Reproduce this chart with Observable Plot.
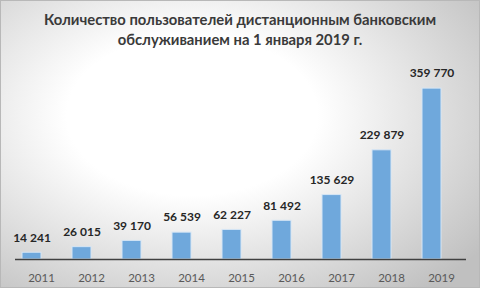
<!DOCTYPE html>
<html>
<head>
<meta charset="utf-8">
<script src="https://cdn.jsdelivr.net/npm/d3@7"></script>
<script src="https://cdn.jsdelivr.net/npm/@observablehq/plot@0.6"></script>
<style>
  html, body { margin: 0; padding: 0; }
  #chart {
    position: relative;
    width: 480px; height: 288px; box-sizing: border-box;
    border: 1px solid #b8b8b8;
    background: radial-gradient(ellipse 75% 80% at 40% 40%, #ffffff 35%, #c0c0c0 100%);
    font-family: Lato, "Open Sans", sans-serif;
    overflow: hidden;
  }
  #title {
    height: 47px; box-sizing: border-box; padding-top: 8px;
    text-align: center; font-weight: bold; font-size: 14.8px; line-height: 20px;
    color: #3a3a3a; white-space: nowrap;
  }
  #chart svg { display: block; background: transparent; }
</style>
</head>
<body>
<div id="chart">
  <div id="title">Количество пользователей дистанционным банковским<br>обслуживанием на 1 января 2019 г.</div>
</div>
<script>
const years = ["2011", "2012", "2013", "2014", "2015", "2016", "2017", "2018", "2019"];
const users = [14241, 26015, 39170, 56539, 62227, 81492, 135629, 229879, 359770];

const data = years.map((year, i) => ({year, users: users[i]}));
const fmt = v => d3.format(",")(v).replace(/,/g, "\u00a0");

const plot = Plot.plot({
  width: 478,
  height: 240,
  marginTop: 21,
  marginBottom: 29,
  marginLeft: 14,
  marginRight: 13,
  style: {background: "transparent", fontFamily: "Lato, 'Open Sans', sans-serif"},
  x: {domain: years, padding: 0, label: null},
  y: {domain: [0, 400000], axis: null},
  marks: [
    Plot.barY(data, {x: "year", y: "users", fill: "#6fa8dc", stroke: "#d6e6f5", strokeWidth: 1, insetLeft: 6, insetRight: 25}),
    Plot.ruleY([0], {stroke: "#404040", strokeWidth: 1.6}),
    Plot.text(data, {x: "year", y: "users", text: d => fmt(d.users), dx: -9.5, dy: -15, fontWeight: "bold", fontSize: 12, fill: "#262626"}),
    Plot.axisX({tickSize: 0, tickPadding: 14, fontSize: 11.5, fill: "#595959", label: null})
  ]
});
document.getElementById("chart").appendChild(plot);
</script>
</body>
</html>
